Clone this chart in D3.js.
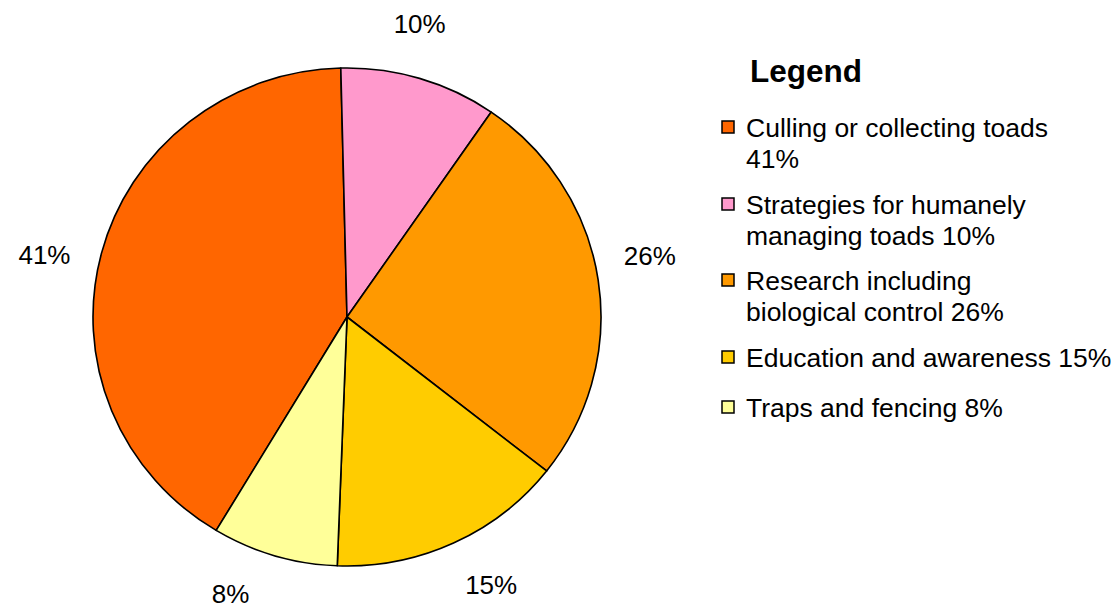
<!DOCTYPE html>
<html><head><meta charset="utf-8">
<script src="https://cdn.jsdelivr.net/npm/d3@7"></script>
<style>body{margin:0;background:#fff}svg{display:block}text{font-family:"Liberation Sans",Arial,sans-serif;fill:#000}</style>
</head><body>
<svg id="c" width="1120" height="610"></svg>
<script>
const categories = ["Culling or collecting toads", "Strategies for humanely managing toads", "Research including biological control", "Education and awareness", "Traps and fencing"];
const values = [41, 10, 26, 15, 8];
const pctLabels = ["41%", "10%", "26%", "15%", "8%"];
const legendLines = [["Culling or collecting toads", "41%"], ["Strategies for humanely", "managing toads 10%"], ["Research including", "biological control 26%"], ["Education and awareness 15%"], ["Traps and fencing 8%"]];
const colors = ["#FF6600", "#FF99CC", "#FF9900", "#FFCC00", "#FFFF99"];

const svg = d3.select("#c");
const cx = 347, cy = 317, ry = 249, rx = 254;
const startDeg = 211;
const pie = d3.pie().sort(null).value(d => d)
  .startAngle(startDeg * Math.PI / 180).endAngle((startDeg + 360) * Math.PI / 180);
const arcs = pie(values);
const arc = d3.arc().innerRadius(0).outerRadius(ry);
const g = svg.append("g").attr("transform", `translate(${cx},${cy}) scale(${rx/ry},1)`);
g.selectAll("path").data(arcs).join("path")
  .attr("d", arc).attr("fill", (d, i) => colors[i])
  .attr("stroke", "#000").attr("stroke-width", 1.6).attr("stroke-linejoin", "round");

// percentage labels outside (best-fit style, kept inside the chart area)
const labelR = 303, shift = -3 * Math.PI / 180, yMin = 24, yMax = 594;
function labelPos(d) {
  const a = (d.startAngle + d.endAngle) / 2 + shift;
  let x = cx + Math.sin(a) * labelR * rx / ry;
  let y = cy - Math.cos(a) * labelR;
  if (y > yMax) { x += Math.sign(Math.sin(a)) * (y - yMax) * 2.5; y = yMax; }
  if (y < yMin) { y = yMin; }
  return [x, y];
}
svg.selectAll("text.pct").data(arcs).join("text").attr("class", "pct")
  .attr("x", d => labelPos(d)[0])
  .attr("y", d => labelPos(d)[1])
  .attr("text-anchor", "middle").attr("dominant-baseline", "central")
  .attr("font-size", 26).text((d, i) => pctLabels[i]);

// legend
const lg = svg.append("g");
lg.append("text").attr("x", 750).attr("y", 82).attr("font-size", 31.5).attr("font-weight", "bold").text("Legend");
const starts = [137, 214, 290, 367, 417];
legendLines.forEach((lines, i) => {
  const y0 = starts[i];
  lg.append("rect").attr("x", 722).attr("y", y0 - 16).attr("width", 12).attr("height", 12)
    .attr("fill", colors[i]).attr("stroke", "#000").attr("stroke-width", 1.5);
  lines.forEach((t, j) => {
    lg.append("text").attr("x", 746).attr("y", y0 + j * 31).attr("font-size", 26.5).text(t);
  });
});
</script>
</body></html>
